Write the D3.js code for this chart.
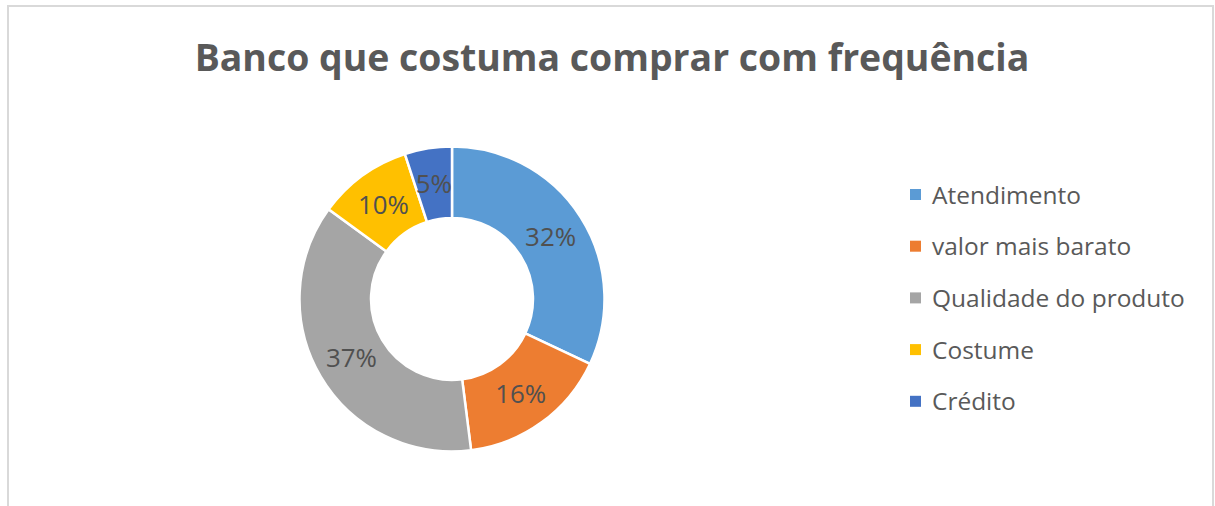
<!DOCTYPE html>
<html>
<head>
<meta charset="utf-8">
<script src="https://cdn.jsdelivr.net/npm/d3@7"></script>
<style>
  html, body { margin: 0; padding: 0; background: #fff; }
  svg { display: block; }
  text { font-family: "Open Sans", "Noto Sans", sans-serif; }
</style>
</head>
<body>
<svg id="chart" width="1215" height="506"></svg>
<script>
const title = "Banco que costuma comprar com frequência";
const categories = ["Atendimento", "valor mais barato", "Qualidade do produto", "Costume", "Crédito"];
const values = [32, 16, 37, 10, 5];
const colors = ["#5B9BD5", "#ED7D31", "#A5A5A5", "#FFC000", "#4472C4"];

const svg = d3.select("#chart");

// outer chart border
svg.append("rect")
  .attr("x", 8).attr("y", 6)
  .attr("width", 1205).attr("height", 540)
  .attr("fill", "#fff")
  .attr("stroke", "#d9d9d9").attr("stroke-width", 2);

// helper: fit font size to a target width
function fitSize(sel, targetW, base) {
  sel.attr("font-size", base);
  const w = sel.node().getComputedTextLength();
  const s = base * targetW / w;
  sel.attr("font-size", s);
  return s;
}

// title
const t = svg.append("text")
  .attr("x", 612).attr("y", 71)
  .attr("text-anchor", "middle")
  .attr("font-weight", "bold")
  .attr("fill", "#595959")
  .text(title);
fitSize(t, 835, 38);

// donut
const cx = 452, cy = 299, rOuter = 152.5, rInner = 81;
const pie = d3.pie().sort(null).value(d => d.value);
const arcs = pie(categories.map((c, i) => ({ name: c, value: values[i], color: colors[i] })));
const arc = d3.arc().innerRadius(rInner).outerRadius(rOuter);
const total = d3.sum(values);

const g = svg.append("g").attr("transform", `translate(${cx},${cy})`);
g.selectAll("path.slice")
  .data(arcs)
  .join("path")
  .attr("class", "slice")
  .attr("d", arc)
  .attr("fill", d => d.data.color)
  .attr("stroke", "#fff")
  .attr("stroke-width", 2.5)
  .attr("stroke-linejoin", "miter");

// labels
const labels = g.selectAll("text.lbl")
  .data(arcs)
  .join("text")
  .attr("class", "lbl")
  .attr("transform", d => `translate(${arc.centroid(d)})`)
  .attr("text-anchor", "middle")
  .attr("dy", "0.35em")
  .attr("fill", "#505050")
  .text(d => d3.format(".0%")(d.data.value / total));
{
  const probe = labels.filter(d => d.data.value === 37);
  const s = fitSize(probe, 51, 22);
  labels.attr("font-size", s);
}

// legend
const legX = 910, legY0 = 195, legStep = 51.7;
const leg = svg.append("g");
const rows = leg.selectAll("g.row")
  .data(categories)
  .join("g")
  .attr("class", "row")
  .attr("transform", (d, i) => `translate(${legX},${legY0 + i * legStep})`);
rows.append("rect")
  .attr("x", 0).attr("y", -6)
  .attr("width", 11).attr("height", 11)
  .attr("fill", (d, i) => colors[i]);
const legTexts = rows.append("text")
  .attr("x", 22).attr("y", 0)
  .attr("dy", "0.35em")
  .attr("fill", "#595959")
  .text(d => d);
{
  const probe = legTexts.filter(d => d === "Qualidade do produto");
  const s = fitSize(probe, 253, 22);
  legTexts.attr("font-size", s);
}
</script>
</body>
</html>
